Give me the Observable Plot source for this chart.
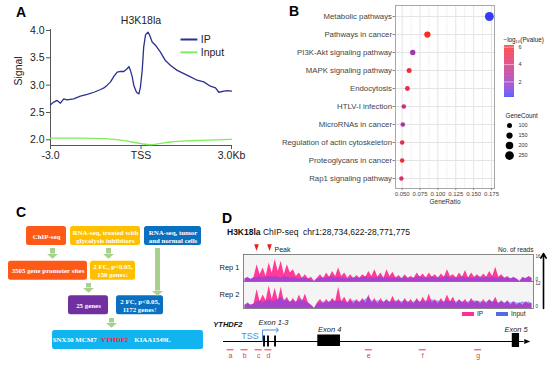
<!DOCTYPE html>
<html><head><meta charset="utf-8">
<script src="https://cdn.jsdelivr.net/npm/d3@7"></script>
<script src="https://cdn.jsdelivr.net/npm/@observablehq/plot@0.6"></script>
<style>
body{margin:0;background:#fff;}
#fig{position:relative;width:554px;height:369px;overflow:hidden;font-family:'Liberation Sans',Arial,Helvetica,sans-serif;background:#fff;}
#fig svg{overflow:visible;}
</style></head><body><div id="fig"></div>
<script>
const FONT = "'Liberation Sans', Arial, Helvetica, sans-serif";
const SERIF = "'Liberation Serif', 'Times New Roman', serif";

// ---------- Panel A: H3K18la profile around TSS ----------
const profileTicks = [-3, 0, 3];
const profileTickLabels = ["-3.0", "TSS", "3.0Kb"];
const signalTicks = [2.0, 2.5, 3.0, 3.5, 4.0];
const ipPos = [-3,-2.89,-2.78,-2.67,-2.56,-2.45,-2.23,-2.01,-1.78,-1.56,-1.34,-1.23,-1.12,-1.01,-0.90,-0.79,-0.68,-0.57,-0.46,-0.40,-0.35,-0.29,-0.24,-0.15,-0.07,-0.02,0.04,0.09,0.15,0.23,0.29,0.37,0.48,0.65,0.81,0.98,1.20,1.42,1.64,1.86,2.08,2.30,2.47,2.58,2.75,2.86,3.0];
const ipSig = [2.64,2.69,2.72,2.67,2.75,2.73,2.75,2.80,2.83,2.87,2.92,2.95,3.0,3.06,3.16,3.24,3.25,3.25,3.30,3.34,3.27,3.15,3.0,2.87,2.84,2.96,3.27,3.70,3.92,3.97,3.91,3.79,3.73,3.60,3.45,3.36,3.27,3.21,3.15,3.09,3.06,2.98,2.95,2.87,2.89,2.90,2.89];
const inputPos = [-3,-2,-1.2,-0.5,0,0.3,0.6,1.0,1.5,2.0,2.5,3.0];
const inputSig = [2.03,2.03,2.02,1.98,1.93,1.91,1.93,1.96,1.98,1.99,2.0,2.01];
const profileSeries = ["IP", "Input"];
const profileColors = ["#2b3190", "#80ec60"];

// ---------- Panel B: KEGG enrichment ----------
const pathways = ["Metabolic pathways","Pathways in cancer","PI3K-Akt signaling pathway","MAPK signaling pathway","Endocytosis","HTLV-I infection","MicroRNAs in cancer","Regulation of actin cytoskeleton","Proteoglycans in cancer","Rap1 signaling pathway"];
const geneRatio = [0.172,0.0853,0.0648,0.0598,0.0574,0.0523,0.0509,0.0500,0.0500,0.0490];
const logP = [0.3,6.1,2.3,5.4,5.0,3.6,2.4,4.9,5.6,4.5];
const geneCount = [255,150,115,100,95,85,85,80,80,75];
const ratioTicks = [0.050,0.075,0.100,0.125,0.150,0.175];
const ratioMinor = [0.0625,0.0875,0.1125,0.1375,0.1625];
const pTicks = [2,4,6];
const countLegend = [100,150,200,250];

// ---------- Panel C: flowchart ----------
const flowLabels = ["ChIP-seq","RNA-seq, treated with\nglycolysis inhibitors","RNA-seq, tumor\nand normal cells","3505 gene promoter sites","2 FC, p<0.05,\n150 genes\u2193","25 genes","2 FC, p<0.05,\n1172 genes\u2191",""];
const flowRow = [0,0,0,1,1,2,2,3];
const flowX0 = [26,70,144,8,90,68,116,52];
const flowX1 = [66,140,201,87,135,108,163,203];
const flowKind = ["chip","inhib","tumor","chip","inhib","merge","tumor","final"];
const flowGenes = ["SNX30","MCM7","YTHDF2","KIAA1549L"];
const flowGeneX = [62.5,85.5,114,152];
const arrowX = [52,108,157,88,111];
const arrowFrom = [0.36,0.36,0.36,1.37,2.38];
const arrowTo = [0.52,0.52,1.59,1.5,2.51];

// ---------- Panel D: ChIP-seq tracks ----------
const regionStart = 28734622, regionEnd = 28771775;
const rep1IP = [1.5,2.5,1,2.5, 10,4,8,3,11,5,13,6,12,4,10,5,7,3,5,2,4,1.5,2.5,0, 2,4,1.5,5,2.5,6,3,8,3,5,2,4,1.5,3.5,2,4, 2.5,6,3,7,2.5,5,2,7,3,5.5, 2,3.5,1.5,4,2,3,2,5,2.5,4.5, 2,5,2.5,4,2,4.5,2.5,7,3,4, 2,5,2.5,6.5,2,5,2.5,4,2,4.5, 2.5,6,3,8.5,2.5,4,2,3,1.5,2.5, 1.5,0,2.5,1.5,3,2];
const rep1Input = [1.5,2,1.5,2,2.5,3,2,2.5,3,2.5, 3,2.5,2,3,2.5,2,2.5,2,1.5,2, 2,1.5,1,0,1.5,2,2.5,2,2.5,3, 2,2.5,2,2,1.5,2,2.5,2,2,2.5, 3,2,2.5,2,2.5,3,2,2.5,2,2, 2.5,2,2,2.5,2,1.5,2,2.5,3,2, 2.5,2,3,2,2.5,2,2.5,3,2,2, 2.5,2,3,2,2.5,2,2,2.5,3,2, 2.5,2,3,2,2,2.5,2,2,1.5,2, 1.5,0,2,2,2.5,2];
const rep2IP = [1.5,2.5,1.5,2, 8.5,3,6,3.5,10,4,9,3.5,9.5,3,5,2.5,4.5,2.5,6,3,6.5,2.5,1.5,0, 2.5,4,2,4,2.5,4.5,3,9.5,3,5,2.5,4.5,2,4,2.5,4.5, 2.5,6,2.5,4.5,2,4.5,2.5,4,2.5,5.5, 2.5,4,2,4.5,2.5,4,2,4.5,2.5,5, 2.5,6.5,2.5,4,2,4.5,2.5,6,3,5, 2,4,2.5,4,2,4.5,2.5,3.5,2,4, 2,4,2.5,5,2,3.5,2,3.5,1.5,3, 1.5,2.5,1.5,3,2,2.5];
const rep2Input = [1.5,2,1.5,2,3,3.5,2.5,3,4,3, 3.5,4,5,4,3.5,3,3.5,3,3.5,4, 3,2.5,1.5,0,2,2.5,3,2.5,3,3.5, 3,3.5,3,3,2.5,3,3.5,3,3,3.5, 4,5,3.5,3,3.5,3,3,3.5,3,3, 3.5,3,3,3.5,3,2.5,3,3.5,3,3, 3.5,3,4,3,3.5,3,3,3.5,3,3, 3,3.5,3,2.5,3,3,3.5,3,3,2.5, 3,3.5,3,3,2.5,3,2.5,3,2.5,3, 2.5,2.5,3,2.5,3,2];
const repMax = [16, 12];
const peakPos = [28736290, 28737950];

// gene model (kb from left end of the drawn locus)
const geneLineEnd = 38.5;
const exonNames = ["1","2","3","4","5"];
const exonStart = [5.13,5.64,6.54,12.07,36.97];
const exonEnd = [5.37,5.88,6.78,14.98,37.9];
const exonLow = [-5.5,-5.5,-5.5,-5,-6];
const exonHigh = [5.5,5.5,5.5,6.5,8];
const tssArrowKb = [5.0, 6.9];
const primerIds = ["a","b","c","d","e","f","g"];
const primerKb = [0.9,2.7,4.5,5.76,18.6,25.5,32.6];

// ---------- helpers ----------
const fig = document.getElementById("fig");
function place(node, left, top) {
  node.style.position = "absolute"; node.style.left = left + "px"; node.style.top = top + "px";
  fig.appendChild(node); return node;
}
function html(txt, left, top, css) {
  const d = document.createElement("div");
  d.innerHTML = txt; d.style.cssText = "white-space:nowrap;line-height:1;" + (css || "");
  return place(d, left, top);
}
const baseStyle = (size) => ({fontFamily: FONT, fontSize: size, color: "#222", background: "transparent", overflow: "visible"});

// ---------- Panel A ----------
const tickLabelMap = new Map(profileTicks.map((t, i) => [t, profileTickLabels[i]]));
const legendKeyY = [3.835, 3.60];
const A = Plot.plot({
  width: 240, height: 175, marginLeft: 50, marginRight: 9, marginTop: 29, marginBottom: 30,
  style: baseStyle("10.5px"),
  x: {domain: [-3, 3]},
  y: {domain: [1.896, 4.018]},
  marks: [
    Plot.ruleX([-3], {stroke: "#555"}),
    Plot.ruleY([1.896], {stroke: "#555"}),
    Plot.axisX({ticks: profileTicks, tickFormat: d => tickLabelMap.get(d), tickSize: 4, tickPadding: 2, label: null, stroke: "#555"}),
    Plot.axisY({ticks: signalTicks, tickFormat: d3.format(".1f"), tickSize: 4, tickPadding: 2, label: null, stroke: "#555"}),
    Plot.line(inputPos, {x: d => d, y: (d, i) => inputSig[i], stroke: profileColors[1], strokeWidth: 1.3, curve: "monotone-x"}),
    Plot.line(ipPos, {x: d => d, y: (d, i) => ipSig[i], stroke: profileColors[0], strokeWidth: 1.3}),
    Plot.link(profileSeries, {x1: 1.31, x2: 1.87, y1: (d, i) => legendKeyY[i], y2: (d, i) => legendKeyY[i], stroke: (d, i) => profileColors[i], strokeWidth: 2}),
    Plot.text(profileSeries, {x: 1.98, y: (d, i) => legendKeyY[i], text: d => d, textAnchor: "start", fill: "#222"}),
    Plot.text(["H3K18la"], {frameAnchor: "top", dy: -13, fill: "#222"}),
    Plot.text(["Signal"], {frameAnchor: "left", rotate: -90, dx: -32, dy: -2, fill: "#222"})
  ]
});
place(A, 0, 0);

// ---------- Panel B ----------
const colorScale = {type: "linear", domain: [0.2, 6.2], range: ["#1f3cff", "#ff2a1a"], interpolate: "lab"};
const rScale = {type: "linear", domain: [60, 260], range: [2, 4.5]};
const B = Plot.plot({
  width: 215, height: 210, marginLeft: 115, marginRight: 1, marginTop: 5, marginBottom: 22,
  style: baseStyle("7.8px"),
  x: {domain: [0.0407, 0.1792]},
  y: {type: "point", domain: pathways, padding: 0.56},
  color: colorScale,
  r: rScale,
  marks: [
    Plot.gridX(ratioMinor, {stroke: "#f2f2f2", strokeOpacity: 1}),
    Plot.gridX(ratioTicks, {stroke: "#e4e4e4", strokeOpacity: 1}),
    Plot.gridY(pathways, {stroke: "#e4e4e4", strokeOpacity: 1}),
    Plot.frame({stroke: "#a8a8a8"}),
    Plot.axisX({ticks: ratioTicks, tickFormat: d3.format(".3f"), fontSize: 6, tickSize: 2, tickPadding: 1, label: null, stroke: "#888", fill: "#444"}),
    Plot.axisY({tickSize: 2.5, tickPadding: 1, label: null, stroke: "#888", fill: "#444"}),
    Plot.text(["GeneRatio"], {frameAnchor: "bottom", dy: 15, fontSize: 6.5, fill: "#333"}),
    Plot.dot(pathways, {x: (d, i) => geneRatio[i], y: d => d, r: (d, i) => geneCount[i], fill: (d, i) => logP[i]})
  ]
});
place(B, 280, 0);

// colour bar legend
const ramp = d3.range(0.2, 6.2, 0.05);
const CB = Plot.plot({
  width: 59, height: 75, marginLeft: 9, marginRight: 40, marginTop: 15, marginBottom: 8,
  style: baseStyle("5.5px"),
  x: {domain: [0, 1], axis: null},
  y: {domain: [0.2, 6.2], axis: null},
  color: colorScale,
  marks: [
    Plot.rect(ramp, {x1: 0, x2: 1, y1: d => d, y2: d => Math.min(6.2, d + 0.06), fill: d => d}),
    Plot.tickY(pTicks, {y: d => d, stroke: "white", strokeWidth: 0.6, strokeOpacity: 0.8}),
    Plot.text(pTicks, {x: 1, y: d => d, text: d => String(d), dx: 4, textAnchor: "start", fill: "#333"}),
    Plot.text(["\u2212log\u2081\u2080(Pvalue)"], {frameAnchor: "top-left", dx: -1, dy: -8, textAnchor: "start", fontSize: 6.3, fill: "#222"})
  ]
});
place(CB, 495, 30);

// size legend
const SL = Plot.plot({
  width: 59, height: 60, marginLeft: 14, marginRight: 35, marginTop: 19, marginBottom: 9,
  style: baseStyle("5.5px"),
  x: {domain: [0, 1], axis: null},
  y: {type: "point", domain: countLegend, padding: 0, axis: null},
  r: rScale,
  marks: [
    Plot.dot(countLegend, {x: 0, y: d => d, r: d => d, fill: "black"}),
    Plot.text(countLegend, {x: 0, y: d => d, text: d => String(d), dx: 9, textAnchor: "start", fill: "#333"}),
    Plot.text(["GeneCount"], {frameAnchor: "top-left", dx: -4, dy: -11, textAnchor: "start", fontSize: 6.3, fill: "#222"})
  ]
});
place(SL, 495, 105);

// ---------- Panel C ----------
const flowFill = {chip: "#fd5a17", inhib: "#ffc000", tumor: "#0a70c0", merge: "#7030a0", final: "#11b4ee"};
const arrowHead = {draw(ctx, size) { const w = Math.sqrt(size / Math.PI); ctx.moveTo(-w, 0); ctx.lineTo(w, 0); ctx.lineTo(0, 0.85 * w); ctx.closePath(); }};
const C = Plot.plot({
  width: 215, height: 174, marginLeft: 0, marginRight: 0, marginTop: 0, marginBottom: 0,
  style: {fontFamily: SERIF, fontSize: "6.9px", background: "transparent", overflow: "visible"},
  x: {domain: [0, 215], range: [0, 215], axis: null},
  y: {domain: [0, 3], range: [40.5, 144.5], axis: null},
  marks: [
    Plot.rect(flowKind, {x1: (d, i) => flowX0[i], x2: (d, i) => flowX1[i], y1: (d, i) => flowRow[i] - 0.275, y2: (d, i) => flowRow[i] + 0.275, fill: d => flowFill[d], rx: 2.5}),
    Plot.text(flowLabels, {x: (d, i) => (flowX0[i] + flowX1[i]) / 2, y: (d, i) => flowRow[i], text: d => d, fill: "white", fontWeight: "bold", lineHeight: 1.2}),
    Plot.text(flowGenes, {x: (d, i) => flowGeneX[i], y: 3, text: d => d, fill: d => d === "YTHDF2" ? "#ff1a1a" : "white", fontWeight: "bold"}),
    Plot.ruleX(arrowX, {x: d => d, y1: (d, i) => arrowFrom[i], y2: (d, i) => arrowTo[i], stroke: "#a9d18e", strokeWidth: 5}),
    Plot.dot(arrowX, {x: d => d, y: (d, i) => arrowTo[i], symbol: arrowHead, r: 5.5, fill: "#a9d18e", stroke: null})
  ]
});
place(C, 0, 195);

// ---------- Panel D tracks ----------
const binX = i => regionStart + (i + 0.5) * (regionEnd - regionStart) / 96;
const peakSymbol = {draw(ctx) { ctx.moveTo(-2.3, -3.3); ctx.lineTo(2.3, -3.3); ctx.lineTo(0, 3.4); ctx.closePath(); }};
function track(ip, inp, max, name, extra, opts) {
  return Plot.plot({
    width: 339, height: opts.height, marginLeft: 28, marginRight: 21, marginTop: opts.top, marginBottom: opts.bottom,
    style: baseStyle("7.5px"),
    x: {domain: [regionStart, regionEnd], axis: null},
    y: {domain: [0, max], axis: null},
    marks: [
      Plot.frame({fill: "#f4f4f4", stroke: null}),
      Plot.areaY(ip, {x: (d, i) => binX(i), y: d => d, fill: "#ff2f93", fillOpacity: 0.95}),
      Plot.areaY(inp, {x: (d, i) => binX(i), y: d => d, fill: "#5148ff", fillOpacity: 0.5}),
      Plot.frame({stroke: "#6a6a6a", strokeWidth: 0.8}),
      Plot.text([max], {frameAnchor: "right", y: d => d, text: d => String(d), dx: 2, lineAnchor: "top", textAnchor: "start", fontSize: 4.5, fill: "#333"}),
      Plot.text([0], {frameAnchor: "right", y: d => d, text: d => String(d), dx: 2, dy: -0.5, lineAnchor: "bottom", textAnchor: "start", fontSize: 4.5, fill: "#333"}),
      Plot.text([name], {frameAnchor: "left", dx: -4, textAnchor: "end", fill: "#222"}),
      ...extra
    ]
  });
}
const T1 = track(rep1IP, rep1Input, repMax[0], "Rep 1", [
  Plot.dot(peakPos, {x: d => d, frameAnchor: "top", dy: -7, symbol: peakSymbol, fill: "#ee1c1c", stroke: null}),
  Plot.text([peakPos[1]], {x: d => d, frameAnchor: "top", dy: -7, dx: 5, text: () => "Peak", textAnchor: "start", fontSize: 7, fill: "#222"}),
  Plot.text(["No. of reads"], {frameAnchor: "top-right", dy: -7, textAnchor: "end", fontSize: 6.5, fill: "#222"})
], {height: 42, top: 14, bottom: 1});
place(T1, 215, 240);
const T2 = track(rep2IP, rep2Input, repMax[1], "Rep 2", [], {height: 28, top: 0, bottom: 1});
place(T2, 215, 281);

// reads arrow
const RA = Plot.plot({
  width: 10, height: 60, marginLeft: 0, marginRight: 0, marginTop: 0, marginBottom: 0,
  style: baseStyle("6px"),
  x: {domain: [0, 1], range: [5, 5], axis: null},
  y: {domain: [0, 1], range: [58, 3], axis: null},
  marks: [Plot.arrow([0], {x1: 0, x2: 0, y1: 0, y2: 1, stroke: "black", strokeWidth: 1.6, headLength: 5})]
});
place(RA, 538, 250);

// track legend
html('<span style="display:inline-block;width:12px;height:4px;background:#ff2f93;margin-right:3px;vertical-align:middle"></span><span style="vertical-align:middle">IP</span>', 462, 311, "font-size:6.5px;color:#222;");
html('<span style="display:inline-block;width:12px;height:4px;background:#4f6fe0;margin-right:3px;vertical-align:middle"></span><span style="vertical-align:middle">Input</span>', 496, 311, "font-size:6.5px;color:#222;");

// gene model
const rightHead = {draw(ctx) { ctx.moveTo(0, -2.6); ctx.lineTo(6, 0); ctx.lineTo(0, 2.6); ctx.closePath(); }};
const primerRed = "#e8383d";
const G = Plot.plot({
  width: 339, height: 54, marginLeft: 8, marginRight: 24, marginTop: 0, marginBottom: 0,
  style: baseStyle("7.5px"),
  x: {domain: [0, 39.3], axis: null},
  y: {domain: [-28, 26], axis: null},
  marks: [
    Plot.ruleY([0], {x1: 0, x2: geneLineEnd, stroke: "black", strokeWidth: 1.2}),
    Plot.dot([geneLineEnd], {x: d => d, y: 0, symbol: rightHead, fill: "black", stroke: null}),
    Plot.rect(exonNames, {x1: (d, i) => exonStart[i], x2: (d, i) => exonEnd[i], y1: (d, i) => exonLow[i], y2: (d, i) => exonHigh[i], fill: "black"}),
    Plot.line([[tssArrowKb[0], 0], [tssArrowKb[0], 11.5], [tssArrowKb[1], 11.5]], {stroke: "#4a8fd8", strokeWidth: 1, markerEnd: "arrow"}),
    Plot.text(["TSS"], {x: 4.5, y: 5.5, textAnchor: "end", fontSize: 9, fill: "#4a8fd8"}),
    Plot.text(["Exon 1-3"], {x: 4.48, y: 19, textAnchor: "start", fontStyle: "italic", fill: "#222"}),
    Plot.text(["Exon 4"], {x: 13.6, y: 11.7, fontStyle: "italic", fill: "#222"}),
    Plot.text(["Exon 5"], {x: 37.45, y: 11.7, fontStyle: "italic", fill: "#222"}),
    Plot.text(["YTHDF2"], {x: -1.3, y: 17, textAnchor: "start", fontStyle: "italic", fontWeight: "bold", fill: "#111"}),
    Plot.ruleY(primerIds, {y: -8.3, x1: (d, i) => primerKb[i] - 0.45, x2: (d, i) => primerKb[i] + 0.45, stroke: primerRed, strokeWidth: 1}),
    Plot.text(primerIds, {x: (d, i) => primerKb[i], y: -14.5, text: d => d, fill: primerRed, fontSize: 7})
  ]
});
place(G, 215, 315);

// panel letters and D title
html("A", 16, 5, "font-weight:bold;font-size:14px;color:#000;");
html("B", 289, 4, "font-weight:bold;font-size:14px;color:#000;");
html("C", 16, 205, "font-weight:bold;font-size:14px;color:#000;");
html("D", 222, 211, "font-weight:bold;font-size:14px;color:#000;");
html("<b>H3K18la</b> ChIP-seq&nbsp; chr1:28,734,622-28,771,775", 227, 228, "font-size:8.5px;color:#111;");
</script></body></html>
